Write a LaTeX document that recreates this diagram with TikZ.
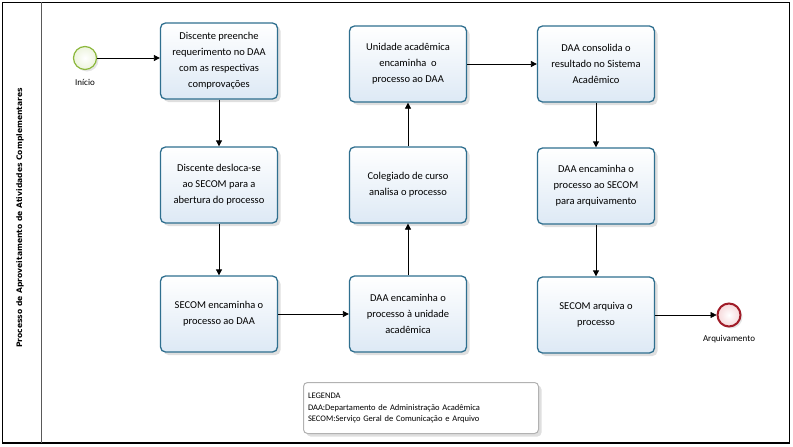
\documentclass[tikz,border=0pt]{standalone}
\usepackage{fontspec}
\setmainfont{Carlito}
\newfontfamily\titlefont{DejaVu Sans}
\usetikzlibrary{arrows.meta,shadows,positioning}
\definecolor{boxline}{HTML}{2F6F8F}
\definecolor{boxfill}{HTML}{DDE9F5}
\definecolor{startline}{HTML}{8CB83C}
\definecolor{startfill}{HTML}{EEF6D8}
\definecolor{endline}{HTML}{A01C28}
\definecolor{endfill}{HTML}{F6D8DA}
\tikzset{
  x=1pt, y=-1pt,
  taskbox/.style={draw=boxline, line width=1.3pt, rounded corners=5pt,
    top color=white, bottom color=boxfill,
    minimum width=117pt, minimum height=76pt, align=center,
    font=\fontsize{10.5}{16}\selectfont, inner sep=2pt,
    drop shadow={shadow xshift=3pt, shadow yshift=-3pt, opacity=0.25}},
  startev/.style={circle, draw=startline, line width=1.2pt, inner color=white, outer color=startfill!70!startline!40, minimum size=23pt, inner sep=0pt,
    drop shadow={shadow xshift=2pt, shadow yshift=-2pt, opacity=0.2}},
  endev/.style={circle, draw=endline, line width=2pt, inner color=white, outer color=endfill, minimum size=23pt, inner sep=0pt,
    drop shadow={shadow xshift=2pt, shadow yshift=-2pt, opacity=0.2}},
  evlabel/.style={font=\fontsize{9}{10}\selectfont},
  flow/.style={-{Triangle[length=6pt,width=6pt]}, line width=0.8pt, black},
}
\begin{document}
\begin{tikzpicture}
\useasboundingbox (0,0) rectangle (793,447);
\fill[white] (0,0) rectangle (793,447);
% pool
\draw[line width=1pt] (2,2) rectangle (789,443);
\draw[line width=2.5pt] (2,443) -- (789,443);
\draw[line width=0.8pt, gray!70!black] (41,2) -- (41,443);
\node[rotate=90, font=\titlefont\bfseries\fontsize{7.6}{8}\selectfont] (title) at (20,218) {Processo de Aproveitamento de Atividades Complementares};
% events
\node[startev] (start) at (85,58) {};
\node[evlabel] (startlbl) at (85,82) {Início};
\node[endev] (end) at (729,315) {};
\node[evlabel] (endlbl) at (729,339) {Arquivamento};
% tasks
\node[taskbox] (b1) at (219,61) {Discente preenche\\requerimento no DAA\\com as respectivas\\comprovações};
\node[taskbox] (b2) at (219,185) {Discente desloca-se\\ao SECOM para a\\abertura do processo};
\node[taskbox] (b3) at (219,314) {SECOM encaminha o\\processo ao DAA};
\node[taskbox] (b4) at (408,314) {DAA encaminha o\\processo à unidade\\acadêmica};
\node[taskbox] (b5) at (408,185) {Colegiado de curso\\analisa o processo};
\node[taskbox] (b6) at (408,64) {Unidade acadêmica\\encaminha\ \ o\\processo ao DAA};
\node[taskbox] (b7) at (596,64) {DAA consolida o\\resultado no Sistema\\Acadêmico};
\node[taskbox] (b8) at (596,186) {DAA encaminha o\\processo ao SECOM\\para arquivamento};
\node[taskbox] (b9) at (596,315) {SECOM arquiva o\\processo};
% flows
\draw[flow] (start) -- (start -| b1.west);
\draw[flow] (b1) -- (b2);
\draw[flow] (b2) -- (b3);
\draw[flow] (b3) -- (b4);
\draw[flow] (b4) -- (b5);
\draw[flow] (b5) -- (b6);
\draw[flow] (b6) -- (b7);
\draw[flow] (b7) -- (b8);
\draw[flow] (b8) -- (b9);
\draw[flow, line width=0.5pt] (b9) -- (end);
% legend
\node[draw=gray!60, line width=1pt, rounded corners=4pt, fill=white,
  drop shadow={shadow xshift=3pt, shadow yshift=-3pt, opacity=0.25},
  minimum width=235pt, minimum height=51pt, text width=226pt, align=left,
  font=\fontsize{8.5}{11.5}\selectfont, inner sep=4pt] (legend) at (421,408)
  {LEGENDA\\DAA:Departamento de Administração Acadêmica\\SECOM:Serviço Geral de Comunicação e Arquivo};
\end{tikzpicture}
\end{document}
